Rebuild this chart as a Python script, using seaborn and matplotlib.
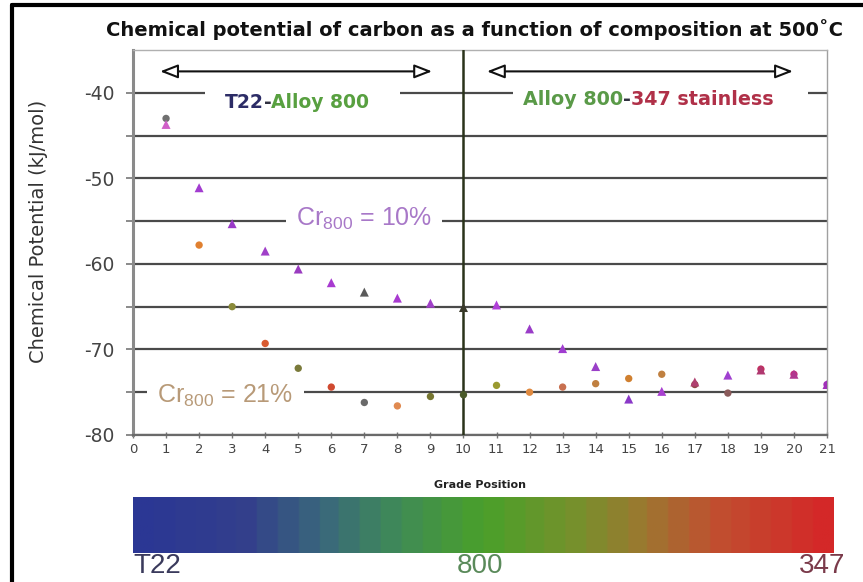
import numpy as np
import pandas as pd
import matplotlib
matplotlib.use("Agg")
import matplotlib.pyplot as plt
from matplotlib.colors import LinearSegmentedColormap
from matplotlib.lines import Line2D
from matplotlib.patches import Rectangle
import seaborn as sns

# ---- data -------------------------------------------------------------
grade_position = list(range(1, 22))
mu_cr10 = [-43.7, -51.1, -55.3, -58.5, -60.6, -62.2, -63.3, -64.0, -64.6, -65.1,
           -64.8, -67.6, -69.9, -72.0, -75.8, -74.9, -73.8, -73.0, -72.4, -72.9, -74.1]
mu_cr21 = [-43.0, -57.8, -65.0, -69.3, -72.2, -74.4, -76.2, -76.6, -75.5, -75.3,
           -74.2, -75.0, -74.4, -74.0, -73.4, -72.9, -74.1, -75.1, -72.3, -72.9, -74.1]
x_ticks = list(range(0, 22))
y_ticks = [-80, -70, -60, -50, -40]
cbar_labels = ["T22", "800", "347"]

# ---- styling ----------------------------------------------------------
tri_colors = ["#d060c8", "#a23cd0", "#9a3ac8", "#a040c8", "#9a3cc0", "#a83ad0",
              "#5a5a5a", "#a83ad0", "#a040c8", "#3a3a2a", "#b040d8", "#9a3cc8",
              "#a03cd0", "#9a40c8", "#8a38c8", "#a840d0", "#b04070", "#a040d0",
              "#b03870", "#b03890", "#a030b8"]
cir_colors = ["#707070", "#e08030", "#8a8a3a", "#d85a30", "#7a7a3a", "#d04a30",
              "#6a6a6a", "#e08a50", "#767630", "#4a5a2a", "#9a9a30", "#e08a40",
              "#c87050", "#c08040", "#d08030", "#c08040", "#904848", "#8a5a5a",
              "#c03060", "#c03080", "#a030b8"]

sns.set_theme(style="white")
plt.rcParams["font.family"] = ["DejaVu Sans"]
plt.rcParams["mathtext.fontset"] = "dejavusans"

W, H = 863, 582
fig = plt.figure(figsize=(W / 100, H / 100), dpi=100)
ax = fig.add_axes([133 / W, 1 - 435 / H, (827 - 133) / W, (435 - 50) / H])

df10 = pd.DataFrame({"pos": grade_position, "mu": mu_cr10, "c": tri_colors})
df21 = pd.DataFrame({"pos": grade_position, "mu": mu_cr21, "c": cir_colors})

sns.scatterplot(data=df21, x="pos", y="mu", hue="c",
                palette={c: c for c in cir_colors}, marker="o", s=28,
                linewidth=0, legend=False, ax=ax, zorder=5)
sns.scatterplot(data=df10, x="pos", y="mu", hue="c",
                palette={c: c for c in tri_colors}, marker="^", s=42,
                linewidth=0, legend=False, ax=ax, zorder=6)

ax.set_xlim(0, 21)
ax.set_ylim(-80, -35)
ax.set_xticks(x_ticks)
ax.set_xticklabels([str(t) for t in x_ticks], fontsize=9.5, color="#444444")
ax.set_yticks(y_ticks)
ax.set_yticklabels([str(t) for t in y_ticks], fontsize=13.5, color="#444444")
ax.set_yticks([-75, -65, -55, -45], minor=True)
ax.yaxis.grid(True, which="both", color="#4a4a4a", linewidth=1.6, zorder=1)
ax.set_axisbelow(True)
ax.tick_params(axis="y", which="both", direction="out", length=5, width=1.2,
               color="#777777", left=True, pad=8)
ax.tick_params(axis="x", direction="inout", length=5, width=1.0,
               color="#777777", bottom=True, pad=3)

ax.axvline(10, color="#2a331a", linewidth=1.8, zorder=3)

for side, col, lw in [("left", "#8a8a8a", 2.2), ("bottom", "#6a6a6a", 1.6),
                      ("top", "#b0b0b0", 1.0), ("right", "#a0a0a0", 1.0)]:
    ax.spines[side].set_visible(True)
    ax.spines[side].set_color(col)
    ax.spines[side].set_linewidth(lw)

ax.set_xlabel("Grade Position", fontsize=8, fontweight="bold", color="#222222")
ax.xaxis.set_label_coords(0.5, -0.118)
ax.set_ylabel("Chemical Potential (kJ/mol)", fontsize=14, color="#333333")
ax.yaxis.set_label_coords(-0.123, 0.53)

# double-headed range arrows
arrow_kw = dict(arrowstyle="<|-|>,head_length=0.9,head_width=0.35",
                fc="white", ec="#111111", lw=1.5, shrinkA=0, shrinkB=0)
ax.annotate("", xy=(9.05, -37.5), xytext=(0.82, -37.5), arrowprops=arrow_kw,
            zorder=7)
ax.annotate("", xy=(19.97, -37.5), xytext=(10.71, -37.5), arrowprops=arrow_kw,
            zorder=7)

# white plates that interrupt the -40 grid line behind the alloy labels
ax.add_patch(Rectangle((2.18, -42.6), 8.08 - 2.18, 3.3, fc="white", ec="none",
                       zorder=7))
ax.add_patch(Rectangle((11.5, -42.6), 20.42 - 11.5, 3.3, fc="white", ec="none",
                       zorder=7))


def multicolor_label(x, y, parts, fontsize):
    """Write a label whose pieces carry different colours, side by side."""
    prev = None
    for text, col in parts:
        if prev is None:
            prev = ax.text(x, y, text, fontsize=fontsize, fontweight="bold",
                           color=col, ha="left", va="center", zorder=9)
        else:
            prev = ax.annotate(text, xy=(1, 0), xycoords=prev, ha="left",
                               va="bottom", fontsize=fontsize,
                               fontweight="bold", color=col, zorder=9)


multicolor_label(2.78, -41.1, [("T22", "#2c2c66"), ("-", "#303040"),
                               ("Alloy 800", "#58a040")], 13.5)
multicolor_label(11.8, -40.8, [("Alloy 800", "#5a9a48"), ("-", "#303040"),
                               ("347 stainless", "#b03048")], 13.8)

ax.text(7.0, -54.8, r"Cr$_{\mathregular{800}}$ = 10%", fontsize=18,
        family="Liberation Sans", color="#a878c8", ha="center", va="center",
        zorder=8, bbox=dict(boxstyle="square,pad=0.4", fc="white", ec="none"))
ax.text(2.8, -75.4, r"Cr$_{\mathregular{800}}$ = 21%", fontsize=18,
        family="Liberation Sans", color="#b89a78", ha="center", va="center",
        zorder=8, bbox=dict(boxstyle="square,pad=0.4", fc="white", ec="none"))

fig.text(474 / W, 1 - 30 / H,
         "Chemical potential of carbon as a function of composition at 500˚C",
         fontsize=14, fontweight="bold", color="#111111",
         ha="center", va="center")

# composition colour bar
cax = fig.add_axes([133 / W, 1 - 553 / H, 700 / W, 56 / H])
grad_cmap = LinearSegmentedColormap.from_list(
    "grade",
    [(0.0, "#2b3794"), (0.15, "#333f8c"), (0.27, "#3a6a7a"), (0.37, "#3f8a58"),
     (0.5, "#4aa02a"), (0.63, "#74922c"), (0.73, "#9a7a30"), (0.84, "#c05030"),
     (1.0, "#d42828")], N=34)
cax.imshow(np.linspace(0, 1, 300)[None, :], aspect="auto", cmap=grad_cmap,
           extent=(0, 1, 0, 1))
cax.set_xticks([])
cax.set_yticks([])
for s in cax.spines.values():
    s.set_visible(False)

cb_colors = ["#3a3a5c", "#5a8a5a", "#7a3a4a"]
fig.text(133 / W, 1 - 566 / H, cbar_labels[0], fontsize=20,
         family="Liberation Sans", color=cb_colors[0], ha="left", va="center")
fig.text(480 / W, 1 - 566 / H, cbar_labels[1], fontsize=20,
         family="Liberation Sans", color=cb_colors[1], ha="center", va="center")
fig.text(845 / W, 1 - 566 / H, cbar_labels[2], fontsize=20,
         family="Liberation Sans", color=cb_colors[2], ha="right", va="center")

# picture frame
fig.add_artist(Line2D([12 / W, 12 / W], [0, 1 - 5 / H], color="black",
                      linewidth=3, transform=fig.transFigure))
fig.add_artist(Line2D([12 / W, 1], [1 - 5 / H, 1 - 5 / H], color="black",
                      linewidth=3, transform=fig.transFigure))

fig.savefig("out.png", dpi=100, facecolor="white")
